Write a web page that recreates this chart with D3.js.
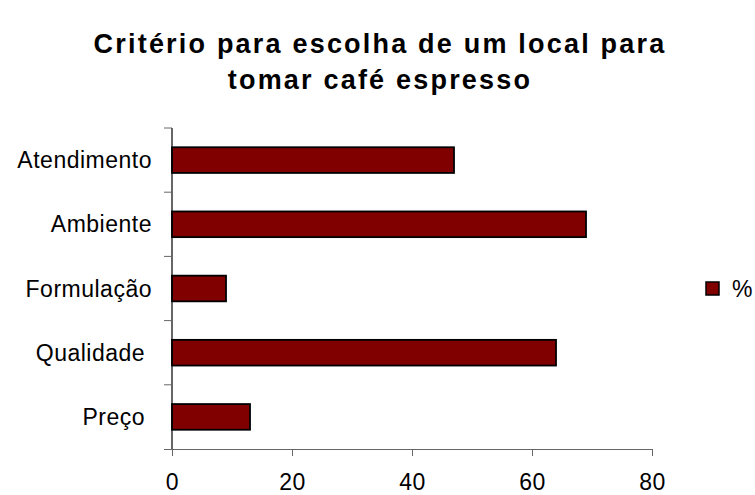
<!DOCTYPE html>
<html>
<head>
<meta charset="utf-8">
<script src="https://cdn.jsdelivr.net/npm/d3@7"></script>
<style>
  html, body { margin: 0; padding: 0; background: #fff; }
  svg text { font-family: "Liberation Sans", Arial, sans-serif; fill: #000; white-space: pre; }
</style>
</head>
<body>
<svg id="chart" width="755" height="495"></svg>
<script>
// Critério para escolha de um local para tomar café espresso (%)
const categories = ["Atendimento", "Ambiente", "Formulação", "Qualidade ", "Preço "];
const values = [47, 69, 9, 64, 13];
const xTicks = [0, 20, 40, 60, 80];
const titleLines = ["Critério para escolha de um local para", "tomar café espresso"];
const seriesName = "%";

const svg = d3.select("#chart");
const barColor = "#800000";
const labelFont = "23px";

const plot = { left: 172, right: 652, top: 128, bottom: 449 };

const x = d3.scaleLinear().domain([0, 80]).range([plot.left, plot.right]);
const y = d3.scaleBand().domain(categories).range([plot.top, plot.bottom])
  .paddingInner(0.6).paddingOuter(0.3);

// Title
svg.append("g").selectAll("text").data(titleLines).join("text")
  .attr("x", 380)
  .attr("y", (d, i) => 53 + i * 36)
  .attr("text-anchor", "middle")
  .style("font-size", "27px")
  .style("font-weight", "bold")
  .style("letter-spacing", "2.2px")
  .text(d => d);

// Bars
svg.append("g").selectAll("rect").data(categories).join("rect")
  .attr("x", x(0))
  .attr("y", d => y(d))
  .attr("width", (d, i) => x(values[i]) - x(0))
  .attr("height", y.bandwidth())
  .attr("fill", barColor)
  .attr("stroke", "#000")
  .attr("stroke-width", 1.8);

// X axis
const xAxis = svg.append("g")
  .attr("transform", `translate(0,${plot.bottom})`)
  .call(d3.axisBottom(x).tickValues(xTicks).tickSize(7).tickPadding(18).tickSizeOuter(0));
xAxis.select(".domain").attr("stroke", "#666").attr("d", `M${plot.left - 8},0.5H${plot.right}`);
xAxis.selectAll(".tick line").attr("stroke", "#666");
xAxis.selectAll(".tick text")
  .style("font-size", labelFont)
  .style("letter-spacing", "0.5px")
  .style("font-family", "'Liberation Sans', Arial, sans-serif");

// Y axis: ticks sit on the category boundaries
const yAxisG = svg.append("g").attr("transform", `translate(${plot.left},0)`);
yAxisG.append("line")
  .attr("x1", 0).attr("x2", 0)
  .attr("y1", plot.top).attr("y2", plot.bottom)
  .attr("stroke", "#000").attr("stroke-width", 1.2);
const step = (plot.bottom - plot.top) / categories.length;
yAxisG.selectAll("line.tk").data(d3.range(categories.length)).join("line")
  .attr("class", "tk")
  .attr("x1", -8).attr("x2", 0)
  .attr("y1", i => plot.top + i * step).attr("y2", i => plot.top + i * step)
  .attr("stroke", "#666");
yAxisG.selectAll("text").data(categories).join("text")
  .attr("x", -20)
  .attr("y", d => plot.top + (categories.indexOf(d) + 0.5) * step)
  .attr("dy", "0.35em")
  .attr("text-anchor", "end")
  .style("font-size", labelFont)
  .style("letter-spacing", "0.5px")
  .text(d => d);

// Legend
const legend = svg.append("g").attr("transform", "translate(706,282)");
legend.append("rect")
  .attr("width", 13).attr("height", 13)
  .attr("fill", barColor).attr("stroke", "#000").attr("stroke-width", 1.5);
legend.append("text")
  .attr("x", 26).attr("y", 6.5).attr("dy", "0.35em")
  .style("font-size", labelFont)
  .text(seriesName);
</script>
</body>
</html>
